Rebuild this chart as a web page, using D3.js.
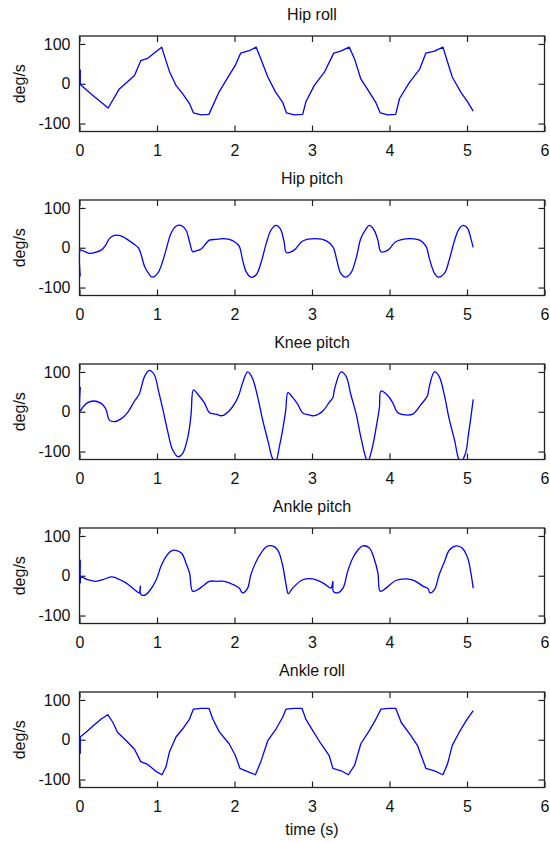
<!DOCTYPE html>
<html>
<head>
	<meta charset="utf-8">
	<title>Joint velocities</title>
	<style type="text/css">
		body { margin: 0; background: #fff; }
		text { font-family: "Liberation Sans", Arial, Helvetica, sans-serif; }
	</style>
</head>
<body>
	<script src="https://d3js.org/d3.v7.min.js"></script>
	<script type="text/javascript">
		// panel titles and axis ticks
		const titles = ['Hip roll', 'Hip pitch', 'Knee pitch', 'Ankle pitch', 'Ankle roll'];
		const xTicks = [0, 1, 2, 3, 4, 5, 6];
		const yTicks = [-100, 0, 100];

		// values: time (s) and deg/s for each joint
		const hipRollT = [0.01, 0.01, 0.17, 0.37, 0.51, 0.71, 0.79, 0.88, 1.06, 1.16, 1.245, 1.33, 1.42, 1.47, 1.57, 1.67,
			1.80, 1.93, 2.01, 2.08, 2.19, 2.28, 2.34, 2.43, 2.53, 2.62, 2.67, 2.77, 2.88,
			2.92, 3.03, 3.16, 3.28, 3.37, 3.48, 3.55, 3.63, 3.74, 3.82, 3.88, 3.98, 4.08,
			4.13, 4.26, 4.39, 4.47, 4.58, 4.69, 4.75, 4.81, 4.92, 5.01, 5.08];
		const hipRollV = [36, -2, -29, -61, -14, 21, 58, 64, 92, 31, -4, -25, -50, -73, -78, -77,
			-21, 21, 46, 77, 83, 92, 62, 17, -21, -46, -73, -78, -77,
			-46, -4, 29, 77, 82, 92, 62, 12, -21, -46, -73, -78, -77,
			-37, 4, 37, 77, 82, 92, 54, 17, -21, -46, -69];

		const hipPitchT = [0.01, 0.01, 0.04, 0.127, 0.19, 0.28, 0.34, 0.385, 0.45, 0.535, 0.6, 0.69, 0.76, 0.79, 0.84, 0.89,
			0.94, 1.01, 1.065, 1.116, 1.18, 1.245, 1.31, 1.375, 1.42, 1.46, 1.50, 1.57, 1.675, 1.76, 1.85,
			1.93, 2.0, 2.06, 2.105, 2.15, 2.21, 2.28, 2.34, 2.41, 2.47, 2.535, 2.59, 2.64, 2.67, 2.77,
			2.88, 3.05, 3.18, 3.27, 3.32, 3.37, 3.43, 3.50, 3.57, 3.63, 3.70, 3.74, 3.80, 3.85, 3.89,
			3.98, 4.08, 4.26, 4.39, 4.47, 4.52, 4.58, 4.63, 4.71, 4.77, 4.84, 4.90, 4.95, 5.01, 5.05, 5.08];
		const hipPitchV = [-72, -6, -7, -14, -12, -6, 7, 23, 31, 30, 23, 11, 0, -14, -47, -64,
			-74, -64, -39, -6, 36, 54, 56, 44, 15, -10, -8, -3, 19, 21, 23,
			21, 15, 4, -31, -60, -74, -68, -39, 11, 44, 56, 48, 15, -12, -6,
			17, 23, 18, 2, -31, -64, -74, -64, -26, 23, 48, 56, 45, 19, -10,
			-6, 15, 23, 19, 4, -31, -64, -74, -64, -31, 19, 48, 56, 48, 23, 1];

		const kneePitchT = [0.01, 0.01, 0.04, 0.105, 0.19, 0.28, 0.34, 0.385, 0.45, 0.535, 0.62, 0.71, 0.77, 0.79, 0.84, 0.90,
			0.965, 1.02, 1.08, 1.14, 1.20, 1.27, 1.33, 1.40, 1.44, 1.47, 1.525, 1.61, 1.675, 1.76, 1.84,
			1.93, 2.01, 2.06, 2.105, 2.17, 2.23, 2.30, 2.36, 2.43, 2.49, 2.53, 2.58, 2.62, 2.66, 2.69,
			2.75, 2.815, 2.88, 2.965, 3.03, 3.14, 3.22, 3.27, 3.29, 3.375, 3.44, 3.50, 3.57, 3.63, 3.69,
			3.72, 3.775, 3.83, 3.87, 3.89, 3.98, 4.04, 4.105, 4.21, 4.30, 4.41, 4.49, 4.51, 4.58, 4.64,
			4.71, 4.77, 4.84, 4.89, 4.92, 4.98, 5.02, 5.05, 5.08];
		const kneePitchV = [62, 2, 11, 23, 27, 21, 7, -21, -25, -18, -2, 27, 44, 56, 89, 104,
			93, 52, 2, -51, -95, -113, -105, -62, -6, 55, 44, 23, -2, -6, -10,
			2, 23, 44, 73, 100, 85, 36, -18, -72, -117, -126, -87, -47, 2, 48,
			36, 19, -3, -8, -10, 2, 23, 36, 56, 100, 89, 44, -6, -64, -113,
			-126, -93, -37, 11, 52, 40, 23, -2, -8, -6, 19, 40, 60, 100, 89,
			40, -18, -72, -117, -126, -105, -55, -14, 31];

		const anklePitchT = [0.01, 0.01, 0.02, 0.105, 0.21, 0.30, 0.41, 0.49, 0.60, 0.71, 0.77, 0.785, 0.79, 0.84, 0.90, 0.99,
			1.05, 1.116, 1.18, 1.245, 1.32, 1.375, 1.42, 1.46, 1.525, 1.59, 1.675, 1.78, 1.87, 1.98, 2.06,
			2.105, 2.17, 2.21, 2.28, 2.34, 2.41, 2.49, 2.56, 2.62, 2.665, 2.695, 2.75, 2.88, 3.01, 3.14,
			3.245, 3.27, 3.275, 3.33, 3.40, 3.46, 3.525, 3.59, 3.655, 3.74, 3.80, 3.85, 3.88, 3.955, 4.08,
			4.21, 4.32, 4.43, 4.50, 4.52, 4.58, 4.64, 4.71, 4.77, 4.86, 4.94, 5.01, 5.05, 5.08];
		const anklePitchV = [40, -18, -4, -10, -14, -10, -3, -7, -18, -35, -43, -26, -47, -49, -39, -10,
			23, 48, 62, 64, 56, 31, 7, -39, -35, -26, -14, -14, -14, -22, -31,
			-43, -31, 2, 36, 56, 73, 75, 64, 27, -22, -45, -31, -10, -8, -18,
			-31, -14, -39, -43, -31, 11, 44, 64, 75, 70, 44, 7, -39, -31, -12,
			-8, -12, -26, -33, -43, -35, 2, 36, 64, 75, 69, 44, 7, -31];

		const ankleRollT = [0.01, 0.01, 0.084, 0.17, 0.28, 0.365, 0.43, 0.49, 0.60, 0.71, 0.79, 0.88, 0.99, 1.065, 1.116, 1.16,
			1.245, 1.33, 1.42, 1.47, 1.57, 1.67, 1.72, 1.80, 1.93, 2.01, 2.07, 2.17, 2.27, 2.34, 2.43,
			2.535, 2.62, 2.665, 2.77, 2.87, 2.92, 3.01, 3.115, 3.22, 3.27, 3.375, 3.47, 3.55, 3.63, 3.74,
			3.825, 3.89, 3.99, 4.08, 4.15, 4.26, 4.36, 4.47, 4.58, 4.69, 4.75, 4.81, 4.90, 4.99, 5.08];
		const ankleRollV = [-35, 7, 19, 34, 52, 63, 44, 19, -2, -24, -55, -62, -80, -88, -68, -31,
			7, 27, 52, 77, 79, 79, 52, 21, -10, -39, -72, -80, -88, -55, -2,
			27, 56, 77, 79, 79, 52, 23, -10, -39, -72, -78, -88, -64, -10, 23,
			52, 77, 79, 79, 44, 15, -14, -72, -78, -88, -60, -14, 19, 48, 73];

		const seriesT = [hipRollT, hipPitchT, kneePitchT, anklePitchT, ankleRollT];
		const seriesV = [hipRollV, hipPitchV, kneePitchV, anklePitchV, ankleRollV];
		// roll joints look piecewise straight, pitch joints look smooth
		const smooth = [false, true, true, true, false];

		// layout
		const w = 550;
		const h = 843;
		const margin = {left: 79.5, right: 5.5};
		const inner_w = w - margin.left - margin.right;
		const inner_h = 95.5;
		const top0 = 36;
		const step = 164;

		const svg = d3.select('body').append('svg')
			.attr('width', w)
			.attr('height', h);

		const x = d3.scaleLinear().domain([0, 6]).range([0, inner_w]);
		const y = d3.scaleLinear().domain([-120, 120]).range([inner_h, 0]);
		const fmt = d => String(d); // plain hyphen, no decimals (MATLAB style)

		titles.forEach((title, k) => {
			const g = svg.append('g')
				.attr('transform', `translate(${margin.left},${top0 + k * step})`);

			g.append('clipPath').attr('id', 'clip' + k)
				.append('rect').attr('x', -1).attr('width', inner_w + 1).attr('height', inner_h);

			// ticks on all four sides, pointing inward
			g.append('g').attr('transform', `translate(0,${inner_h})`)
				.call(d3.axisBottom(x).tickValues(xTicks).tickFormat(fmt).tickSizeInner(-6).tickSizeOuter(0).tickPadding(13));
			g.append('g')
				.call(d3.axisTop(x).tickValues(xTicks).tickSizeInner(-6).tickSizeOuter(0).tickFormat(''));
			g.append('g')
				.call(d3.axisLeft(y).tickValues(yTicks).tickFormat(fmt).tickSizeInner(-6).tickSizeOuter(0).tickPadding(9));
			g.append('g').attr('transform', `translate(${inner_w},0)`)
				.call(d3.axisRight(y).tickValues(yTicks).tickSizeInner(-6).tickSizeOuter(0).tickFormat(''));

			g.selectAll('.domain').remove();
			g.selectAll('.tick line').attr('stroke', '#222').attr('stroke-width', 1.2);
			g.selectAll('.tick text').attr('font-size', 16).attr('fill', '#111')
				.attr('font-family', '"Liberation Sans", Arial, sans-serif');

			const line = d3.line()
				.x(d => x(d[0]))
				.y(d => y(d[1]))
				.curve(smooth[k] ? d3.curveCatmullRom.alpha(0.5) : d3.curveLinear);

			const pts = seriesT[k].map((t, i) => [t, seriesV[k][i]]);
			g.append('path')
				.datum(pts)
				.attr('clip-path', `url(#clip${k})`)
				.attr('fill', 'none')
				.attr('stroke', '#0000ff')
				.attr('stroke-width', 1.3)
				.attr('stroke-linejoin', 'round')
				.attr('d', line);

			g.append('rect')
				.attr('width', inner_w).attr('height', inner_h)
				.attr('fill', 'none').attr('stroke', '#222').attr('stroke-width', 1.3);

			g.append('text')
				.attr('x', inner_w / 2).attr('y', -16)
				.attr('text-anchor', 'middle').attr('font-size', 16).attr('fill', '#111')
				.text(title);

			g.append('text')
				.attr('transform', `translate(${19 - margin.left},${inner_h / 2}) rotate(-90)`)
				.attr('dy', '0.35em')
				.attr('text-anchor', 'middle').attr('font-size', 16).attr('fill', '#111')
				.text('deg/s');
		});

		svg.append('text')
			.attr('x', margin.left + inner_w / 2).attr('y', 835)
			.attr('text-anchor', 'middle').attr('font-size', 16).attr('fill', '#111')
			.text('time (s)');
	</script>
</body>
</html>
